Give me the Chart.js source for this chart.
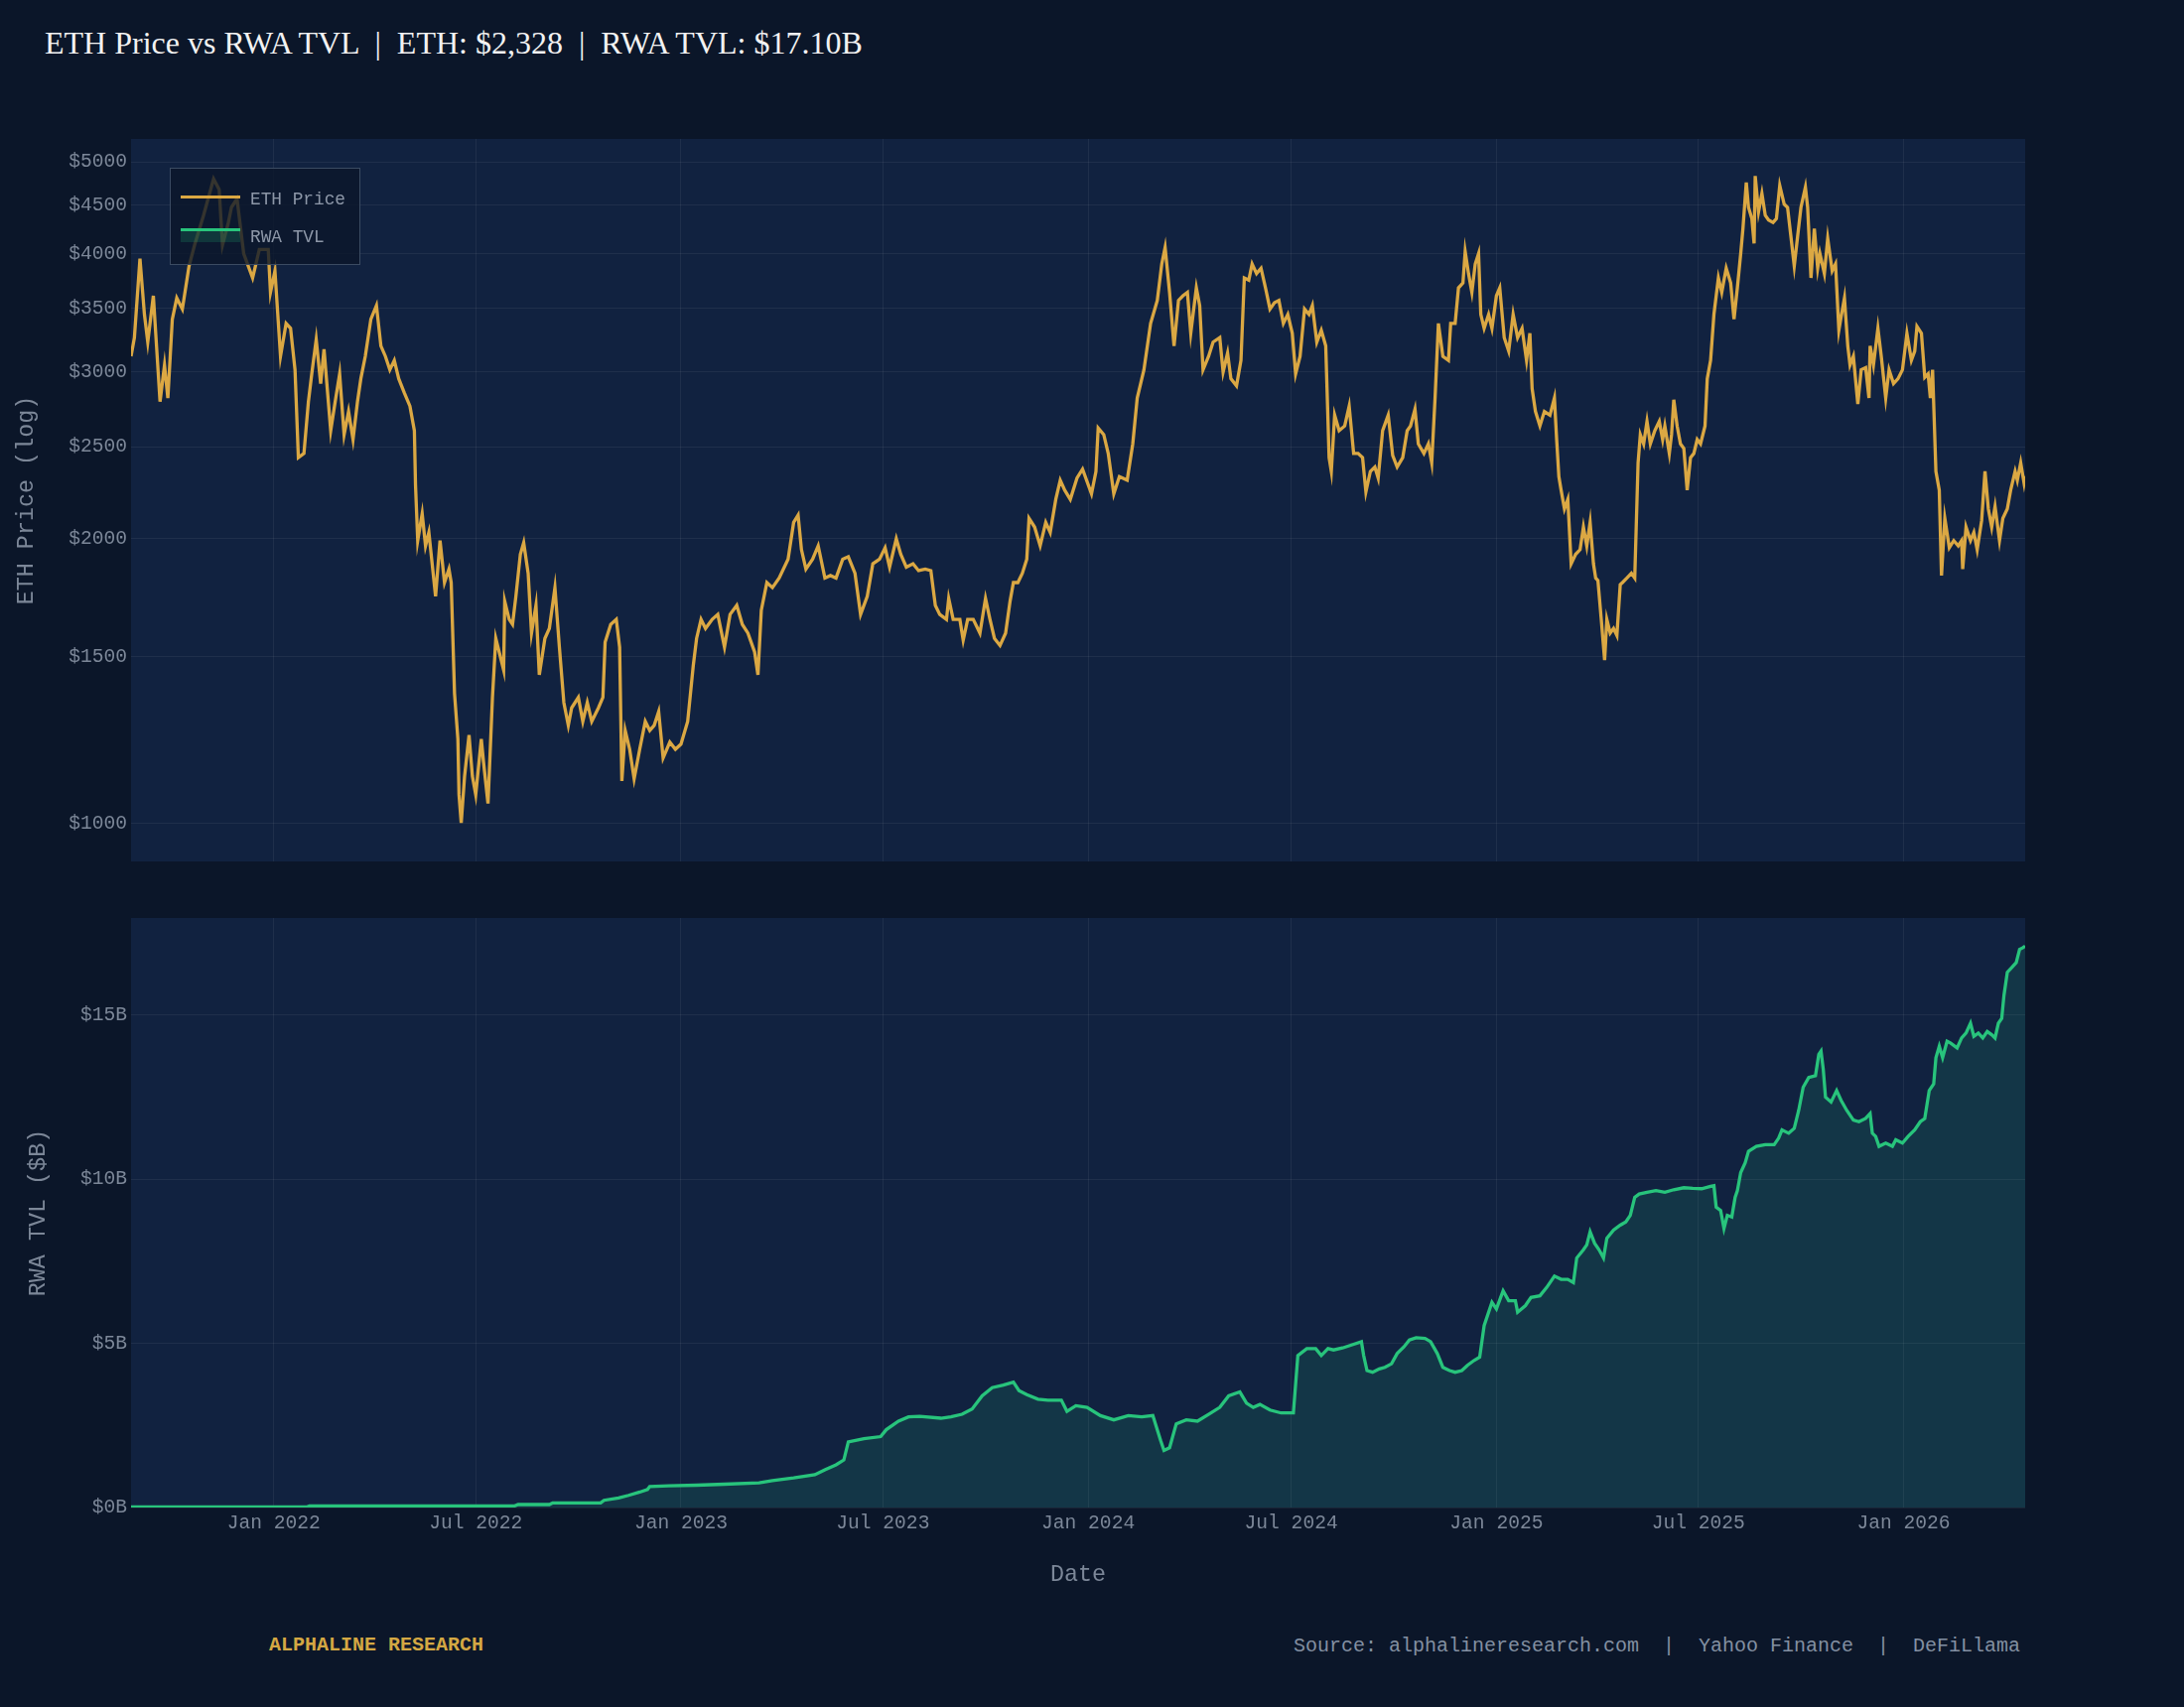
<!DOCTYPE html>
<html>
<head>
<meta charset="utf-8">
<title>ETH Price vs RWA TVL</title>
<script src="https://cdn.jsdelivr.net/npm/chart.js@4.4.1/dist/chart.umd.min.js"></script>
<style>
  html, body { margin: 0; padding: 0; background: #0b1629; }
  #page { position: relative; width: 2200px; height: 1720px; overflow: hidden; background: #0b1629; }
  canvas { position: absolute; left: 0; }
  #topChart { top: 100px; }
  #bottomChart { top: 880px; }
  .txt { position: absolute; white-space: pre; }
  #title { left: 45px; top: 23px; height: 40px; line-height: 40px; font-family: "Liberation Serif", serif; font-size: 32px; color: #f2f2f2; }
  #legend { position: absolute; left: 171px; top: 169px; width: 192px; height: 98px; box-sizing: border-box;
            border: 1.5px solid #3b4b62; background: rgba(11, 22, 41, 0.8); }
  #legend .sw { position: absolute; left: 10px; width: 60px; }
  #legend .lab { position: absolute; left: 80px; height: 20px; line-height: 20px; font-family: "Liberation Mono", monospace; font-size: 17.8px; color: #8d97a8; }
  #brand { left: 271px; top: 1646px; height: 24px; line-height: 24px; font-family: "Liberation Mono", monospace; font-weight: bold; font-size: 20px; color: #d4a843; }
  #source { right: 165px; top: 1647px; height: 24px; line-height: 24px; font-family: "Liberation Mono", monospace; font-size: 20px; color: #8390a2; }
</style>
</head>
<body>
<div id="page">
  <div id="title" class="txt">ETH Price vs RWA TVL  |  ETH: $2,328  |  RWA TVL: $17.10B</div>
  <canvas id="topChart" width="2200" height="800"></canvas>
  <canvas id="bottomChart" width="2200" height="760"></canvas>
  <div id="legend">
    <div class="sw" style="top:27px;height:3px;background:#dba843;"></div>
    <div class="lab" style="top:21px;">ETH Price</div>
    <div class="sw" style="top:62px;height:12px;background:rgba(40,196,124,0.18);"></div>
    <div class="sw" style="top:60px;height:3px;background:#28c47c;"></div>
    <div class="lab" style="top:59px;">RWA TVL</div>
  </div>
  <div id="brand" class="txt">ALPHALINE RESEARCH</div>
  <div id="source" class="txt">Source: alphalineresearch.com  |  Yahoo Finance  |  DeFiLlama</div>
</div>

<script>
// x axis ticks
const xTickDates = ['2022-01-01', '2022-07-01', '2023-01-01', '2023-07-01', '2024-01-01',
  '2024-07-01', '2025-01-01', '2025-07-01', '2026-01-01'];
const xTickLabels = ['Jan 2022', 'Jul 2022', 'Jan 2023', 'Jul 2023', 'Jan 2024',
  'Jul 2024', 'Jan 2025', 'Jul 2025', 'Jan 2026'];
const ethTicks = [1000, 1500, 2000, 2500, 3000, 3500, 4000, 4500, 5000];
const tvlTicks = [0, 5, 10, 15];

// ETH close price (USD)
const ethDates = [
  '2021-08-26','2021-08-29','2021-09-03','2021-09-07','2021-09-10','2021-09-15','2021-09-21','2021-09-25','2021-09-28',
  '2021-10-02','2021-10-06','2021-10-11','2021-10-17','2021-10-22','2021-10-30','2021-11-08','2021-11-13','2021-11-16',
  '2021-11-21','2021-11-24','2021-11-29','2021-12-05','2021-12-13','2021-12-19','2021-12-27','2021-12-29',
  '2022-01-02','2022-01-07','2022-01-12','2022-01-16','2022-01-20','2022-01-23','2022-01-28','2022-02-01','2022-02-04',
  '2022-02-08','2022-02-12','2022-02-15','2022-02-21','2022-02-25','2022-03-01','2022-03-05','2022-03-09','2022-03-13',
  '2022-03-17','2022-03-20','2022-03-24','2022-03-29','2022-04-03','2022-04-07','2022-04-11','2022-04-15','2022-04-19',
  '2022-04-23','2022-04-28','2022-05-03','2022-05-07','2022-05-08','2022-05-10','2022-05-14','2022-05-17','2022-05-20',
  '2022-05-26','2022-05-30','2022-06-03','2022-06-07','2022-06-09','2022-06-12','2022-06-15','2022-06-16','2022-06-18',
  '2022-06-21','2022-06-25','2022-06-28','2022-07-01','2022-07-06','2022-07-08','2022-07-12','2022-07-16','2022-07-19',
  '2022-07-22','2022-07-26','2022-07-27','2022-07-31','2022-08-03','2022-08-06','2022-08-10','2022-08-13','2022-08-17',
  '2022-08-20','2022-08-24','2022-08-27','2022-09-01','2022-09-05','2022-09-10','2022-09-14','2022-09-18','2022-09-22',
  '2022-09-25','2022-10-01','2022-10-05','2022-10-09','2022-10-13','2022-10-19','2022-10-23','2022-10-25','2022-10-30',
  '2022-11-04','2022-11-07','2022-11-09','2022-11-12','2022-11-16','2022-11-20','2022-11-25','2022-11-30','2022-12-04',
  '2022-12-08','2022-12-12','2022-12-16','2022-12-22','2022-12-27','2023-01-01','2023-01-07','2023-01-12','2023-01-15',
  '2023-01-19','2023-01-23','2023-01-29','2023-02-03','2023-02-09','2023-02-14','2023-02-20','2023-02-25','2023-03-02',
  '2023-03-08','2023-03-11','2023-03-14','2023-03-19','2023-03-24','2023-03-30','2023-04-07','2023-04-12','2023-04-16',
  '2023-04-19','2023-04-23','2023-04-29','2023-05-04','2023-05-10','2023-05-15','2023-05-20','2023-05-26','2023-05-31',
  '2023-06-06','2023-06-11','2023-06-17','2023-06-22','2023-06-28','2023-07-03','2023-07-07','2023-07-13','2023-07-17',
  '2023-07-22','2023-07-28','2023-08-02','2023-08-08','2023-08-13','2023-08-17','2023-08-21','2023-08-27','2023-08-29',
  '2023-09-02','2023-09-08','2023-09-11','2023-09-15','2023-09-20','2023-09-26','2023-10-01','2023-10-05','2023-10-09',
  '2023-10-14','2023-10-19','2023-10-23','2023-10-26','2023-10-30','2023-11-03','2023-11-07','2023-11-09','2023-11-14',
  '2023-11-19','2023-11-24','2023-11-28','2023-12-03','2023-12-07','2023-12-11','2023-12-16','2023-12-22','2023-12-27',
  '2024-01-04','2024-01-08','2024-01-10','2024-01-15','2024-01-19','2024-01-24','2024-01-29','2024-02-05','2024-02-10',
  '2024-02-14','2024-02-20','2024-02-26','2024-03-03','2024-03-07','2024-03-10','2024-03-14','2024-03-18','2024-03-22',
  '2024-03-26','2024-03-30','2024-04-02','2024-04-07','2024-04-10','2024-04-13','2024-04-18','2024-04-22','2024-04-28',
  '2024-05-01','2024-05-05','2024-05-08','2024-05-13','2024-05-17','2024-05-20','2024-05-24','2024-05-27','2024-05-31',
  '2024-06-04','2024-06-08','2024-06-12','2024-06-16','2024-06-20','2024-06-24','2024-06-28','2024-07-02','2024-07-05',
  '2024-07-09','2024-07-13','2024-07-17','2024-07-20','2024-07-24','2024-07-28','2024-08-01','2024-08-04','2024-08-06',
  '2024-08-09','2024-08-13','2024-08-18','2024-08-22','2024-08-26','2024-08-30','2024-09-03','2024-09-06','2024-09-10',
  '2024-09-14','2024-09-17','2024-09-21','2024-09-26','2024-09-30','2024-10-04','2024-10-09','2024-10-13','2024-10-16',
  '2024-10-20','2024-10-23','2024-10-28','2024-11-01','2024-11-04','2024-11-07','2024-11-10','2024-11-14','2024-11-19',
  '2024-11-21','2024-11-25','2024-11-28','2024-12-02','2024-12-04','2024-12-07','2024-12-10','2024-12-13','2024-12-16',
  '2024-12-18','2024-12-21','2024-12-25','2024-12-28','2025-01-01','2025-01-04','2025-01-08','2025-01-12','2025-01-16',
  '2025-01-20','2025-01-24','2025-01-28','2025-01-31','2025-02-02','2025-02-05','2025-02-09','2025-02-13','2025-02-18',
  '2025-02-22','2025-02-24','2025-02-26','2025-02-28','2025-03-03','2025-03-06','2025-03-09','2025-03-13','2025-03-17',
  '2025-03-20','2025-03-23','2025-03-26','2025-03-29','2025-03-31','2025-04-02','2025-04-05','2025-04-08','2025-04-10',
  '2025-04-13','2025-04-16','2025-04-19','2025-04-22','2025-04-24','2025-04-28','2025-05-02','2025-05-05','2025-05-08',
  '2025-05-10','2025-05-13','2025-05-16','2025-05-19','2025-05-23','2025-05-27','2025-05-30','2025-06-01','2025-06-05',
  '2025-06-07','2025-06-09','2025-06-12','2025-06-15','2025-06-18','2025-06-21','2025-06-24','2025-06-27','2025-06-30',
  '2025-07-03','2025-07-07','2025-07-09','2025-07-12','2025-07-15','2025-07-19','2025-07-22','2025-07-26','2025-07-30',
  '2025-08-02','2025-08-05','2025-08-08','2025-08-10','2025-08-13','2025-08-15','2025-08-18','2025-08-20','2025-08-21',
  '2025-08-24','2025-08-27','2025-08-30','2025-09-02','2025-09-06','2025-09-09','2025-09-12','2025-09-16','2025-09-19',
  '2025-09-22','2025-09-25','2025-09-28','2025-10-01','2025-10-05','2025-10-07','2025-10-10','2025-10-13','2025-10-16',
  '2025-10-18','2025-10-22','2025-10-25','2025-10-29','2025-11-01','2025-11-04','2025-11-06','2025-11-09','2025-11-12',
  '2025-11-14','2025-11-17','2025-11-21','2025-11-24','2025-11-28','2025-12-01','2025-12-02','2025-12-05','2025-12-09',
  '2025-12-12','2025-12-16','2025-12-19','2025-12-23','2025-12-27','2025-12-31','2026-01-04','2026-01-08','2026-01-11',
  '2026-01-13','2026-01-17','2026-01-20','2026-01-23','2026-01-25','2026-01-27','2026-01-30','2026-02-02','2026-02-04',
  '2026-02-07','2026-02-11','2026-02-15','2026-02-19','2026-02-22','2026-02-23','2026-02-26','2026-03-02','2026-03-05',
  '2026-03-08','2026-03-12','2026-03-15','2026-03-18','2026-03-21','2026-03-24','2026-03-28','2026-03-31','2026-04-04',
  '2026-04-07','2026-04-11','2026-04-13','2026-04-16','2026-04-19','2026-04-20'
];
const ethPrices = [
  3116,3260,3950,3450,3225,3610,2790,3050,2815,
  3410,3590,3495,3880,4085,4390,4797,4675,4085,
  4300,4475,4570,4000,3770,4040,4040,3640,
  3835,3116,3375,3335,3015,2435,2460,2790,2985,
  3245,2915,3170,2600,2790,2985,2575,2725,2545,
  2790,2950,3116,3410,3525,3195,3116,3015,3085,
  2950,2850,2760,2600,2280,1990,2125,1965,2030,
  1738,1990,1797,1857,1797,1372,1228,1073,1002,
  1122,1240,1122,1073,1228,1161,1050,1359,1569,
  1518,1453,1717,1643,1623,1738,1925,1980,1838,
  1589,1700,1436,1569,1607,1775,1536,1342,1270,
  1325,1359,1282,1342,1282,1325,1359,1555,1623,
  1643,1536,1109,1254,1198,1115,1198,1282,1254,
  1270,1313,1173,1219,1198,1213,1282,1468,1569,
  1643,1607,1643,1663,1536,1663,1700,1623,1589,
  1518,1436,1680,1797,1775,1817,1902,2080,2117,
  1947,1857,1902,1965,1817,1828,1817,1902,1914,
  1838,1663,1738,1881,1902,1956,1866,1999,1925,
  1866,1881,1850,1857,1850,1700,1663,1643,1729,
  1643,1643,1562,1643,1643,1589,1729,1643,1569,
  1542,1589,1717,1797,1797,1838,1902,2101,2057,
  1965,2080,2030,2200,2305,2250,2200,2317,2368,
  2230,2355,2617,2575,2460,2230,2325,2305,2518,
  2815,3015,3375,3570,3900,4060,3640,3195,3570,
  3610,3640,3295,3680,3525,3015,3116,3225,3260,
  2998,3140,2950,2900,3085,3770,3750,3900,3810,
  3860,3680,3495,3550,3570,3375,3450,3295,2985,
  3116,3495,3450,3525,3225,3320,3195,2435,2355,
  2700,2600,2630,2760,2460,2460,2435,2240,2355,
  2380,2317,2600,2700,2448,2380,2435,2600,2630,
  2740,2518,2460,2518,2405,2815,3375,3116,3085,
  3375,3375,3680,3725,4020,3810,3640,3900,4000,
  3450,3335,3450,3335,3610,3680,3260,3155,3450,
  3260,3335,3085,3295,2880,2725,2630,2725,2700,
  2815,2545,2325,2250,2150,2200,1881,1925,1947,
  2057,1965,2080,1881,1817,1806,1643,1488,1643,
  1589,1607,1580,1788,1797,1817,1838,1817,2405,
  2575,2518,2660,2518,2600,2660,2545,2630,2460,
  2575,2803,2630,2518,2490,2250,2435,2460,2545,
  2518,2630,2950,3085,3450,3770,3640,3860,3725,
  3410,3680,4000,4250,4755,4475,4355,4100,4830,
  4430,4630,4390,4340,4315,4355,4720,4510,4475,
  4170,3880,4170,4475,4700,4475,3770,4250,3860,
  4000,3810,4150,3835,3900,3320,3430,3590,3195,
  3050,3116,2775,3015,3030,2815,3195,3050,3335,
  3116,2815,3015,2915,2950,3015,3295,3085,3155,
  3350,3295,2960,2985,2815,3015,2355,2250,1828,
  2101,1956,1990,1965,1990,1857,2057,1990,2030,
  1947,2090,2355,2150,2057,2162,1990,2101,2150,
  2250,2355,2305,2405,2290,2328
];

// RWA TVL ($B)
const tvlDates = [
  '2021-08-26','2022-01-31','2022-02-02','2022-08-05','2022-08-08','2022-09-05','2022-09-08','2022-10-21','2022-10-24',
  '2022-11-06','2022-11-15','2022-11-25','2022-12-02','2022-12-04','2022-12-21','2023-01-15','2023-02-09','2023-03-12',
  '2023-03-24','2023-04-12','2023-05-01','2023-05-10','2023-05-20','2023-05-27','2023-05-31','2023-06-14','2023-06-29',
  '2023-07-04','2023-07-15','2023-07-24','2023-08-03','2023-08-22','2023-08-31','2023-09-10','2023-09-19','2023-09-28',
  '2023-10-07','2023-10-17','2023-10-26','2023-10-31','2023-11-07','2023-11-17','2023-11-26','2023-12-08','2023-12-13',
  '2023-12-21','2023-12-31','2024-01-12','2024-01-24','2024-02-06','2024-02-18','2024-02-28','2024-03-06','2024-03-09',
  '2024-03-14','2024-03-20','2024-03-29','2024-04-08','2024-04-18','2024-04-28','2024-05-06','2024-05-16','2024-05-22',
  '2024-05-28','2024-06-03','2024-06-12','2024-06-22','2024-07-03','2024-07-07','2024-07-15','2024-07-23','2024-07-28',
  '2024-08-03','2024-08-08','2024-08-16','2024-08-24','2024-09-02','2024-09-04','2024-09-07','2024-09-12','2024-09-18',
  '2024-09-23','2024-09-29','2024-10-04','2024-10-10','2024-10-15','2024-10-21','2024-10-29','2024-11-03','2024-11-09',
  '2024-11-14','2024-11-20','2024-11-25','2024-12-01','2024-12-06','2024-12-12','2024-12-17','2024-12-21','2024-12-28',
  '2025-01-01','2025-01-07','2025-01-12','2025-01-18','2025-01-20','2025-01-27','2025-02-01','2025-02-09','2025-02-15',
  '2025-02-22','2025-02-28','2025-03-06','2025-03-11','2025-03-14','2025-03-20','2025-03-23','2025-03-26','2025-03-30',
  '2025-04-03','2025-04-07','2025-04-10','2025-04-16','2025-04-22','2025-04-27','2025-05-01','2025-05-05','2025-05-09',
  '2025-05-16','2025-05-24','2025-06-01','2025-06-09','2025-06-18','2025-06-26','2025-07-04','2025-07-12','2025-07-15',
  '2025-07-17','2025-07-21','2025-07-24','2025-07-27','2025-07-31','2025-08-03','2025-08-05','2025-08-08','2025-08-12',
  '2025-08-15','2025-08-22','2025-08-30','2025-09-07','2025-09-11','2025-09-14','2025-09-20','2025-09-25','2025-09-29',
  '2025-10-03','2025-10-08','2025-10-14','2025-10-17','2025-10-19','2025-10-21','2025-10-23','2025-10-28','2025-11-02',
  '2025-11-06','2025-11-11','2025-11-17','2025-11-22','2025-11-28','2025-12-02','2025-12-04','2025-12-07','2025-12-10',
  '2025-12-16','2025-12-22','2025-12-25','2025-12-31','2026-01-05','2026-01-11','2026-01-16','2026-01-20','2026-01-24',
  '2026-01-28','2026-01-30','2026-02-02','2026-02-05','2026-02-09','2026-02-12','2026-02-18','2026-02-22','2026-02-26',
  '2026-03-02','2026-03-05','2026-03-09','2026-03-13','2026-03-17','2026-03-21','2026-03-24','2026-03-27','2026-03-30',
  '2026-04-01','2026-04-04','2026-04-08','2026-04-12','2026-04-15','2026-04-18','2026-04-20'
];
const tvlValues = [
  0.02,0.02,0.05,0.05,0.09,0.09,0.14,0.14,0.22,
  0.29,0.37,0.47,0.55,0.64,0.66,0.68,0.71,0.75,
  0.82,0.90,1.00,1.15,1.30,1.45,2.00,2.10,2.16,
  2.37,2.63,2.76,2.78,2.72,2.76,2.84,3.00,3.40,
  3.65,3.73,3.82,3.56,3.44,3.30,3.27,3.27,2.93,
  3.10,3.05,2.80,2.67,2.80,2.76,2.80,2.04,1.74,
  1.82,2.55,2.67,2.63,2.84,3.05,3.40,3.52,3.18,
  3.05,3.14,2.97,2.88,2.88,4.63,4.84,4.84,4.63,
  4.84,4.80,4.86,4.95,5.05,4.63,4.17,4.12,4.22,
  4.27,4.38,4.69,4.89,5.10,5.17,5.15,5.05,4.69,
  4.27,4.17,4.12,4.17,4.33,4.48,4.58,5.54,6.25,
  6.05,6.60,6.30,6.30,5.95,6.15,6.40,6.45,6.70,
  7.05,6.95,6.95,6.85,7.60,7.85,8.00,8.40,8.05,
  7.85,7.60,8.20,8.45,8.60,8.70,8.90,9.45,9.55,
  9.60,9.65,9.60,9.68,9.74,9.72,9.71,9.78,9.80,
  9.15,9.05,8.50,8.90,8.85,9.45,9.65,10.20,10.50,
  10.85,11.00,11.05,11.05,11.25,11.50,11.40,11.55,12.10,
  12.80,13.10,13.15,13.80,13.90,13.35,12.50,12.35,12.70,
  12.40,12.10,11.80,11.75,11.85,12.00,11.40,11.30,11.00,
  11.10,11.00,11.20,11.10,11.30,11.50,11.75,11.85,12.70,
  12.90,13.70,14.05,13.70,14.20,14.15,14.00,14.30,14.45,
  14.75,14.35,14.45,14.30,14.50,14.40,14.30,14.75,14.90,
  15.60,16.30,16.45,16.60,17.00,17.05,17.10
];

const PLOT_BG = '#112240';
const GRID = 'rgba(255,255,255,0.06)';
const TICK = '#7c8798';
const GOLD = '#dba843';
const GREEN = '#28c47c';
const MONO = '"Liberation Mono", monospace';

const xMin = Date.parse(ethDates[0]);
const xMax = Date.parse(ethDates[ethDates.length - 1]);

// fill the plot area before anything else is drawn
const plotBg = {
  id: 'plotBg',
  beforeDraw(chart) {
    const { ctx, chartArea: a } = chart;
    ctx.save();
    ctx.fillStyle = PLOT_BG;
    ctx.fillRect(a.left, a.top, a.right - a.left, a.bottom - a.top);
    ctx.restore();
  }
};

function dateAxis(showLabels, height) {
  return {
    type: 'linear',
    min: xMin,
    max: xMax,
    afterBuildTicks: (s) => { s.ticks = xTickDates.map(d => ({ value: Date.parse(d) })); },
    afterFit: (s) => { s.height = height; },
    grid: { color: GRID, lineWidth: 1, drawTicks: false },
    border: { display: false },
    ticks: {
      display: showLabels,
      autoSkip: false,
      maxRotation: 0,
      padding: 4,
      color: TICK,
      font: { family: MONO, size: 19.6 },
      callback: (v, i) => xTickLabels[i]
    },
    title: {
      display: showLabels,
      text: 'Date',
      color: TICK,
      font: { family: MONO, size: 23.4 },
      padding: { top: 0, bottom: 39 }
    }
  };
}

function yTitle(text, padTop) {
  return { display: true, text: text, color: TICK, font: { family: MONO, size: 23.4 }, padding: { top: padTop, bottom: 0 } };
}

const common = {
  responsive: false,
  animation: false,
  events: [],
  plugins: { legend: { display: false }, tooltip: { enabled: false } }
};

new Chart(document.getElementById('topChart'), {
  type: 'line',
  data: {
    datasets: [{
      label: 'ETH Price',
      data: ethDates.map((d, i) => ({ x: Date.parse(d), y: ethPrices[i] })),
      borderColor: GOLD,
      borderWidth: 3.3,
      pointRadius: 0,
      tension: 0,
      fill: false
    }]
  },
  options: {
    ...common,
    layout: { padding: { left: 0, right: 160, top: 40, bottom: 32 } },
    scales: {
      x: dateAxis(false, 0),
      y: {
        type: 'logarithmic',
        min: 912,
        max: 5286,
        afterBuildTicks: (s) => { s.ticks = ethTicks.map(v => ({ value: v })); },
        afterFit: (s) => { s.width = 132; },
        grid: { color: GRID, lineWidth: 1, drawTicks: false },
        border: { display: false },
        ticks: { color: TICK, padding: 4, autoSkip: false, font: { family: MONO, size: 19.6 }, callback: (v) => '$' + v },
        title: yTitle('ETH Price (log)', 13)
      }
    }
  },
  plugins: [plotBg]
});

new Chart(document.getElementById('bottomChart'), {
  type: 'line',
  data: {
    datasets: [{
      label: 'RWA TVL',
      data: tvlDates.map((d, i) => ({ x: Date.parse(d), y: tvlValues[i] })),
      borderColor: GREEN,
      backgroundColor: 'rgba(40,196,124,0.13)',
      borderWidth: 3.3,
      pointRadius: 0,
      tension: 0,
      fill: 'origin'
    }]
  },
  options: {
    ...common,
    layout: { padding: { left: 0, right: 160, top: 45, bottom: 0 } },
    scales: {
      x: dateAxis(true, 121),
      y: {
        type: 'linear',
        min: 0,
        max: 17.955,
        afterBuildTicks: (s) => { s.ticks = tvlTicks.map(v => ({ value: v })); },
        afterFit: (s) => { s.width = 132; },
        grid: { color: GRID, lineWidth: 1, drawTicks: false },
        border: { display: false },
        ticks: { color: TICK, padding: 4, autoSkip: false, font: { family: MONO, size: 19.6 }, callback: (v) => '$' + v + 'B' },
        title: yTitle('RWA TVL ($B)', 25)
      }
    }
  },
  plugins: [plotBg]
});
</script>
</body>
</html>
